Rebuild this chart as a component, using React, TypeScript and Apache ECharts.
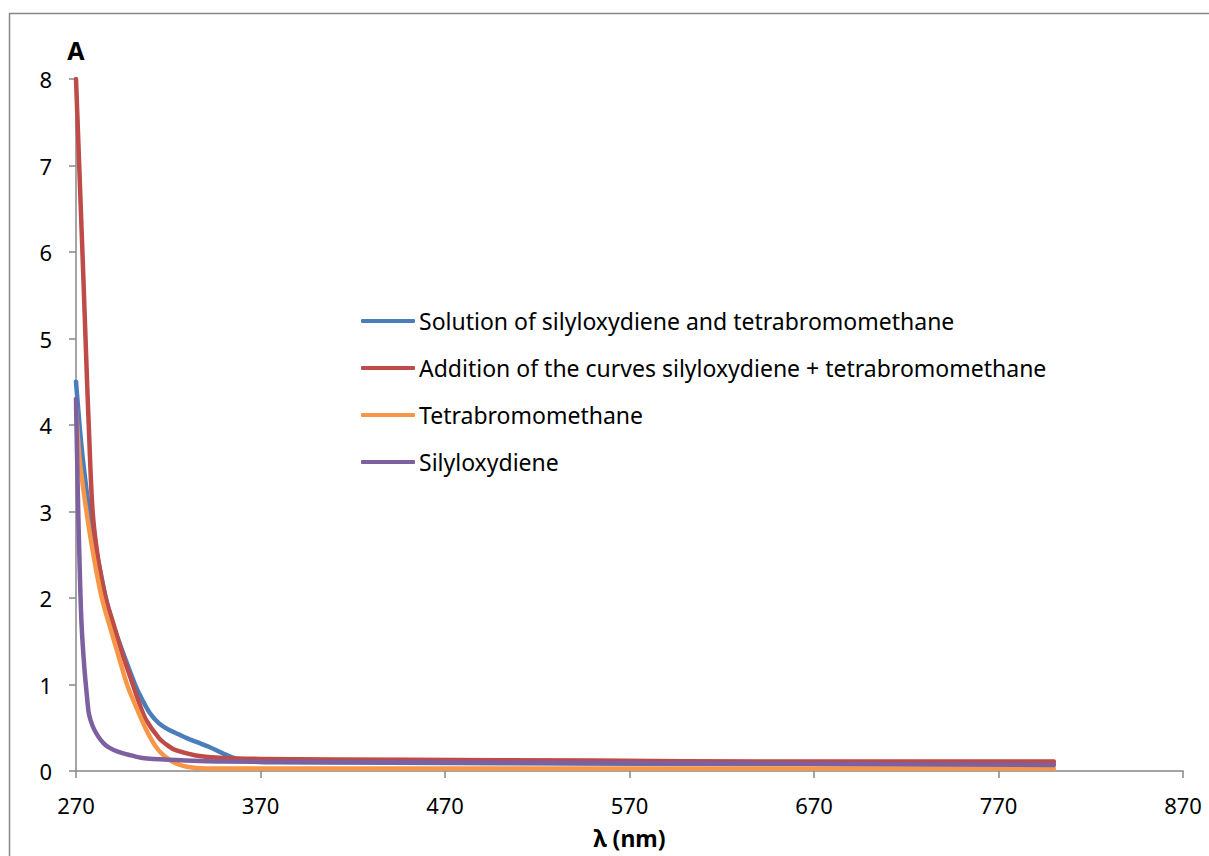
import React, { useEffect, useRef } from "react";
import * as echarts from "echarts";

const seriesNames = [
  "Solution of silyloxydiene and tetrabromomethane",
  "Addition of the curves silyloxydiene + tetrabromomethane",
  "Tetrabromomethane",
  "Silyloxydiene",
];
const colors = ["#4A7EBB", "#BE4B48", "#F79646", "#7D60A0"];

const solutionData: [number, number][] = [
  [270, 4.5], [273, 3.75], [276, 3.2], [279, 2.75], [283, 2.33], [286, 2.02], [290, 1.7],
  [297, 1.28], [302, 1.0], [306, 0.82], [310, 0.67], [315, 0.55], [320, 0.48], [324, 0.44],
  [330, 0.38], [336, 0.33], [342, 0.28], [350, 0.2], [357, 0.14], [365, 0.11], [380, 0.1],
  [500, 0.09], [650, 0.08], [800, 0.08],
];
const additionData: [number, number][] = [
  [270, 8.0], [272, 6.85], [274, 5.7], [276, 4.5], [277, 3.95], [279, 3.0], [282, 2.45],
  [286, 2.0], [290, 1.72], [295, 1.36], [300, 1.05], [304, 0.8], [308, 0.59], [315, 0.38],
  [320, 0.29], [324, 0.24], [335, 0.18], [350, 0.15], [370, 0.14], [450, 0.13], [550, 0.12],
  [650, 0.11], [740, 0.11], [800, 0.11],
];
const tetraData: [number, number][] = [
  [270, 4.2], [272, 3.6], [275, 3.1], [279, 2.55], [284, 2.0], [290, 1.55], [294, 1.26],
  [298, 0.98], [303, 0.72], [308, 0.48], [313, 0.29], [318, 0.17], [324, 0.09], [330, 0.05],
  [340, 0.03], [400, 0.03], [600, 0.03], [800, 0.03],
];
const silylData: [number, number][] = [
  [270, 4.3], [271, 3.2], [272, 2.35], [273, 1.7], [274.5, 1.2], [276, 0.85], [277, 0.66],
  [279, 0.52], [282, 0.4], [285, 0.32], [288, 0.27], [293, 0.22], [300, 0.18], [306, 0.15],
  [320, 0.13], [350, 0.11], [450, 0.1], [600, 0.09], [800, 0.07],
];
const allData = [solutionData, additionData, tetraData, silylData];

const xMin = 270;
const xMax = 870;
const xInterval = 100;
const yMin = 0;
const yMax = 8;
const yInterval = 1;

export default function App() {
  const ref = useRef<HTMLDivElement>(null);
  useEffect(() => {
    if (!ref.current) return;
    const chart = echarts.init(ref.current, undefined, { renderer: "svg" });
    const font = "'Noto Sans', sans-serif";
    chart.setOption({
      animation: false,
      backgroundColor: "#fff",
      textStyle: { fontFamily: font },
      graphic: [
        {
          type: "rect",
          shape: { x: 9.5, y: 13.5, width: 1220, height: 860 },
          style: { fill: "none", stroke: "#878787", lineWidth: 1.5 },
          silent: true,
        },
      ],
      grid: { left: 76, right: 26, top: 79, bottom: 85, outerBoundsMode: "none", containLabel: false },
      legend: {
        orient: "vertical",
        left: 356,
        top: 301,
        icon: "roundRect",
        itemWidth: 54,
        itemHeight: 4,
        itemGap: 17,
        data: seriesNames,
        textStyle: { fontSize: 23, color: "#000", fontFamily: font, lineHeight: 30, padding: [0, 0, 0, -1] },
      },
      xAxis: {
        type: "value",
        min: xMin,
        max: xMax,
        interval: xInterval,
        name: "λ (nm)",
        nameLocation: "middle",
        nameGap: 55,
        nameTextStyle: { fontSize: 23, lineHeight: 24, fontWeight: "bold", color: "#000", fontFamily: font },
        axisLine: { lineStyle: { color: "#878787", width: 1.5 } },
        axisTick: { show: true, length: 7, lineStyle: { color: "#878787", width: 1.5 } },
        axisLabel: { fontSize: 22, color: "#000", margin: 23, fontFamily: font },
        splitLine: { show: false },
      },
      yAxis: {
        type: "value",
        min: yMin,
        max: yMax,
        interval: yInterval,
        name: "A",
        nameLocation: "end",
        nameGap: 17,
        nameTextStyle: { fontSize: 25, fontWeight: "bold", color: "#000", align: "center", fontFamily: font },
        axisLine: { show: true, lineStyle: { color: "#878787", width: 1.5 } },
        axisTick: { show: true, length: 7, lineStyle: { color: "#878787", width: 1.5 } },
        axisLabel: { fontSize: 22, color: "#000", margin: 24, fontFamily: font },
        splitLine: { show: false },
      },
      series: seriesNames.map((name, i) => ({
        name,
        type: "line",
        data: allData[i],
        symbol: "none",
        smooth: 0.3,
        color: colors[i],
        itemStyle: { color: colors[i] },
        lineStyle: { width: 4.5, color: colors[i], cap: "round", join: "round" },
      })),
    });
    return () => chart.dispose();
  }, []);
  return (
    <div
      ref={ref}
      style={{ position: "fixed", left: 0, top: 0, width: 1209, height: 856 }}
    />
  );
}
